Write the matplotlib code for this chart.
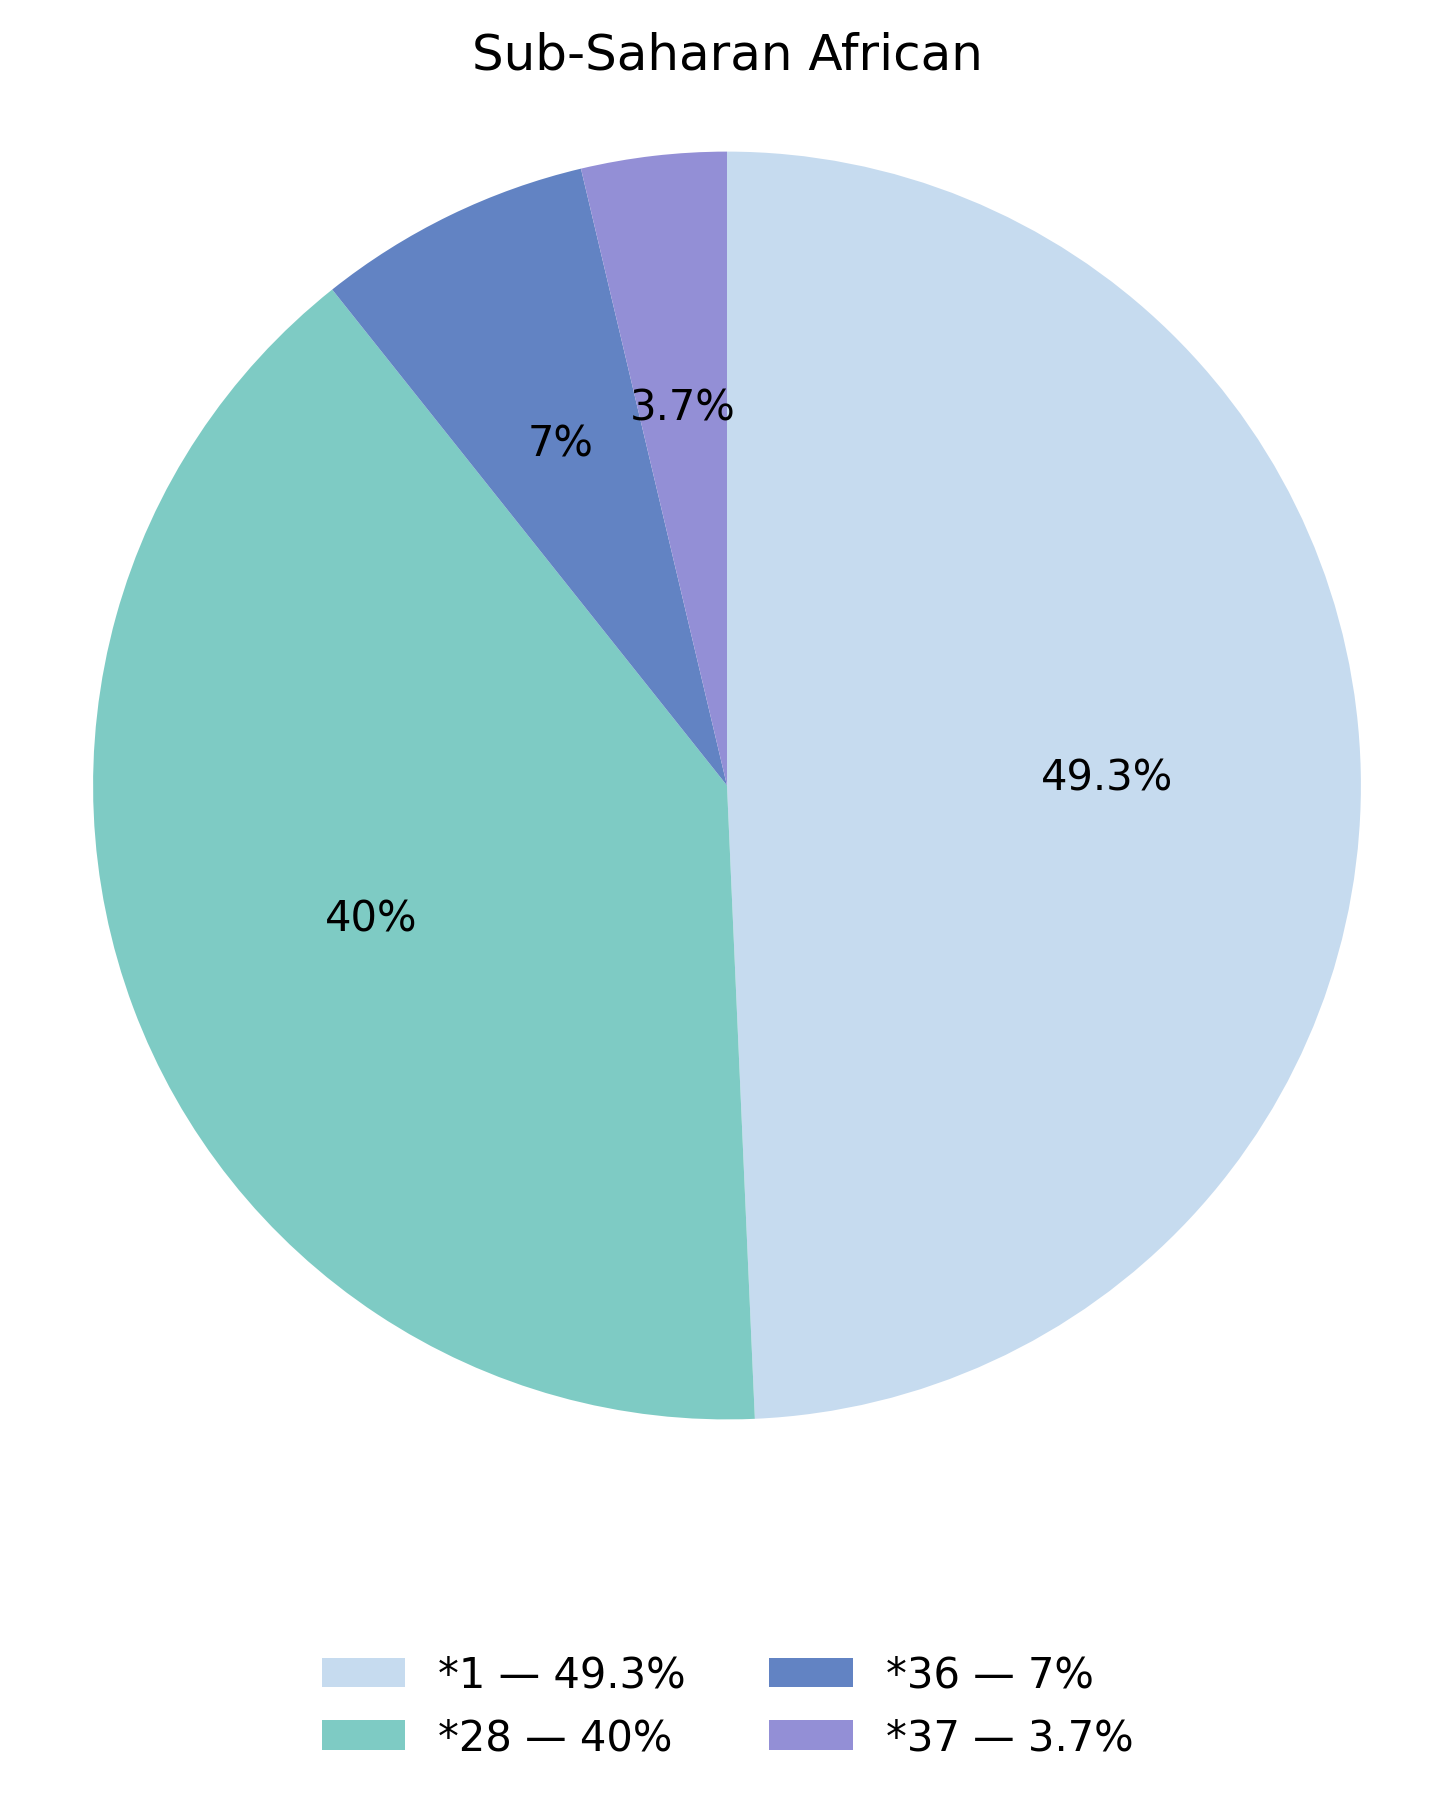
import matplotlib
matplotlib.use("Agg")
import matplotlib.pyplot as plt
import numpy as np

labels = ["*1", "*28", "*36", "*37"]
shares = [49.3, 40.0, 7.0, 3.7]
pct_text = ["49.3%", "40%", "7%", "3.7%"]
colors = ["#c6dbef", "#7ecbc4", "#6283c3", "#938fd6"]

fig = plt.figure(figsize=(7.275, 9.03), dpi=200)
ax = fig.add_axes([0.0639, 0.2135, 0.8715, 0.702])

wedges, texts = ax.pie(shares, colors=colors, startangle=90, counterclock=False,
                       wedgeprops=dict(linewidth=0))

# percentage labels at default pct distance
for w, t in zip(wedges, pct_text):
    ang = np.deg2rad((w.theta1 + w.theta2) / 2)
    ax.text(0.6 * np.cos(ang), 0.6 * np.sin(ang), t, ha="center", va="center", fontsize=15)

ax.set_xlim(-1, 1)
ax.set_ylim(-1, 1)
ax.set_aspect("equal")

fig.text(0.5, 0.9694, "Sub-Saharan African", ha="center", va="center", fontsize=18)

leg_labels = [l + " \u2014 " + p for l, p in zip(labels, pct_text)]
fig.legend(wedges, leg_labels, loc="center", bbox_to_anchor=(0.5, 0.0547), ncol=2,
           frameon=False, fontsize=15)

fig.savefig("out.png", dpi=200)
